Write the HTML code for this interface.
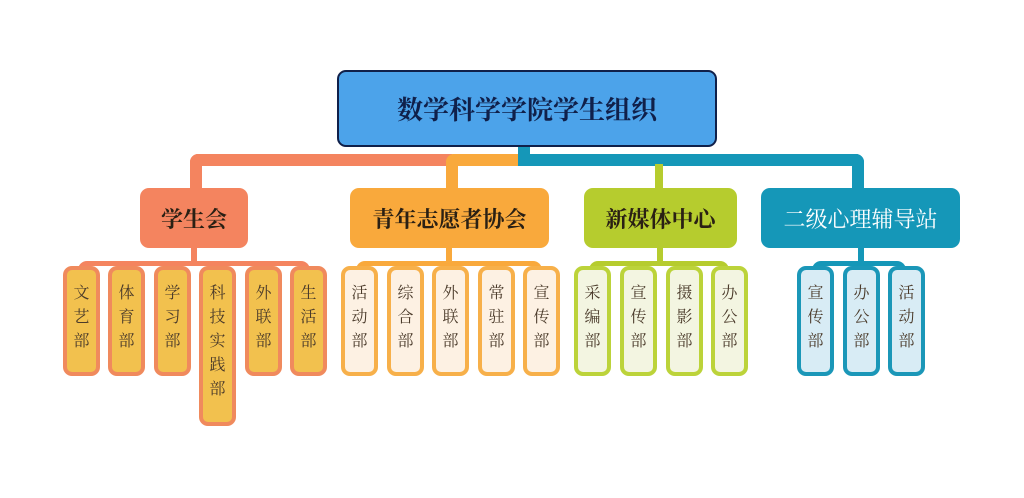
<!DOCTYPE html>
<html><head><meta charset="utf-8"><style>
body{margin:0;width:1024px;height:498px;background:#fff;position:relative;overflow:hidden;font-family:"Liberation Serif","Noto Serif CJK SC",serif}
.a{position:absolute}
.box{position:absolute;border-radius:9px;display:flex;align-items:center;justify-content:center;font-size:22px;color:#2a2014;font-weight:bold}
.leaf{position:absolute;width:37px;border:4px solid;border-radius:9px;top:266px;height:110px;text-align:center;font-size:16px;line-height:24px;padding-top:12px;box-sizing:border-box;color:#4a3a2a}
</style></head><body>
<div class="a" style="left:190px;top:154px;width:262px;height:12px;background:#f4845f;border-radius:8px 0 0 0"></div>
<div class="a" style="left:190px;top:154px;width:12px;height:36px;background:#f4845f;border-radius:8px 0 0 0"></div>
<div class="a" style="left:446px;top:154px;width:80px;height:12px;background:#f9a93c;border-radius:8px 0 0 0"></div>
<div class="a" style="left:446px;top:154px;width:12px;height:36px;background:#f9a93c;border-radius:8px 0 0 0"></div>
<div class="a" style="left:518px;top:147px;width:12px;height:19px;background:#1597b8"></div>
<div class="a" style="left:518px;top:154px;width:346px;height:12px;background:#1597b8;border-radius:0 8px 0 0"></div>
<div class="a" style="left:852px;top:154px;width:12px;height:36px;background:#1597b8;border-radius:0 8px 0 0"></div>
<div class="a" style="left:655px;top:164px;width:8px;height:26px;background:#b6cc2e"></div>
<div class="box" style="left:337px;top:70px;width:376px;height:73px;background:#4ca3ea;border:2px solid #10204a;font-size:26px;color:#10204a">数学科学学院学生组织</div>
<div class="box" style="left:140px;top:188px;width:108px;height:60px;background:#f4845f">学生会</div>
<div class="box" style="left:350px;top:188px;width:199px;height:60px;background:#f9a93c">青年志愿者协会</div>
<div class="box" style="left:584px;top:188px;width:153px;height:60px;background:#b6cc2e">新媒体中心</div>
<div class="box" style="left:761px;top:188px;width:199px;height:60px;background:#1597b8;color:#fff;font-weight:normal">二级心理辅导站</div>
<div class="a" style="left:191px;top:248px;width:6px;height:18px;background:#f4845f"></div>
<div class="a" style="left:78px;top:261px;width:232px;height:14px;border:5px solid #f4845f;border-bottom:0;border-radius:9px 9px 0 0;box-sizing:border-box"></div>
<div class="a" style="left:446px;top:248px;width:6px;height:18px;background:#f9a93c"></div>
<div class="a" style="left:356px;top:261px;width:186px;height:14px;border:5px solid #f9a93c;border-bottom:0;border-radius:9px 9px 0 0;box-sizing:border-box"></div>
<div class="a" style="left:657px;top:248px;width:6px;height:18px;background:#b6cc2e"></div>
<div class="a" style="left:589px;top:261px;width:140px;height:14px;border:5px solid #b6cc2e;border-bottom:0;border-radius:9px 9px 0 0;box-sizing:border-box"></div>
<div class="a" style="left:858px;top:248px;width:6px;height:18px;background:#1597b8"></div>
<div class="a" style="left:812px;top:261px;width:94px;height:14px;border:5px solid #1597b8;border-bottom:0;border-radius:9px 9px 0 0;box-sizing:border-box"></div>
<div class="leaf" style="left:63px;background:#f2c14e;border-color:#f08a5d">文<br>艺<br>部</div>
<div class="leaf" style="left:108px;background:#f2c14e;border-color:#f08a5d">体<br>育<br>部</div>
<div class="leaf" style="left:154px;background:#f2c14e;border-color:#f08a5d">学<br>习<br>部</div>
<div class="leaf" style="left:199px;background:#f2c14e;border-color:#f08a5d;height:160px">科<br>技<br>实<br>践<br>部</div>
<div class="leaf" style="left:245px;background:#f2c14e;border-color:#f08a5d">外<br>联<br>部</div>
<div class="leaf" style="left:290px;background:#f2c14e;border-color:#f08a5d">生<br>活<br>部</div>
<div class="leaf" style="left:341px;background:#fdf1e3;border-color:#f7b04a">活<br>动<br>部</div>
<div class="leaf" style="left:387px;background:#fdf1e3;border-color:#f7b04a">综<br>合<br>部</div>
<div class="leaf" style="left:432px;background:#fdf1e3;border-color:#f7b04a">外<br>联<br>部</div>
<div class="leaf" style="left:478px;background:#fdf1e3;border-color:#f7b04a">常<br>驻<br>部</div>
<div class="leaf" style="left:523px;background:#fdf1e3;border-color:#f7b04a">宣<br>传<br>部</div>
<div class="leaf" style="left:574px;background:#f3f5e1;border-color:#bcd33a">采<br>编<br>部</div>
<div class="leaf" style="left:620px;background:#f3f5e1;border-color:#bcd33a">宣<br>传<br>部</div>
<div class="leaf" style="left:666px;background:#f3f5e1;border-color:#bcd33a">摄<br>影<br>部</div>
<div class="leaf" style="left:711px;background:#f3f5e1;border-color:#bcd33a">办<br>公<br>部</div>
<div class="leaf" style="left:797px;background:#d8ecf5;border-color:#1b97b8">宣<br>传<br>部</div>
<div class="leaf" style="left:843px;background:#d8ecf5;border-color:#1b97b8">办<br>公<br>部</div>
<div class="leaf" style="left:888px;background:#d8ecf5;border-color:#1b97b8">活<br>动<br>部</div>
</body></html>
